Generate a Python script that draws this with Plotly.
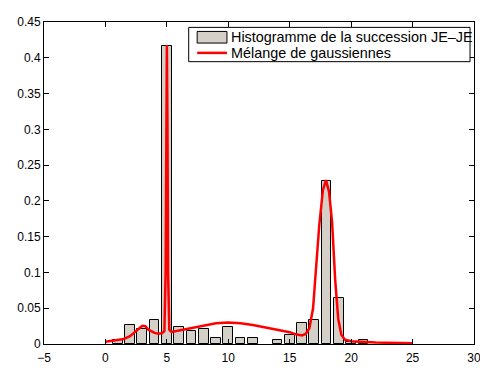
import plotly.graph_objects as go

# histogram bins (centres) and relative frequencies
bin_centres = [1, 2, 3, 4, 5, 6, 7, 8, 9, 10, 11, 12, 14, 15, 16, 17, 18, 19, 20, 21]
bin_freq = [0.006, 0.027, 0.021, 0.033, 0.416, 0.024, 0.0185, 0.021, 0.009, 0.024,
            0.009, 0.009, 0.006, 0.012, 0.030, 0.033, 0.228, 0.064, 0.003, 0.006]

# gaussian mixture curve
mix_x = [0.0, 0.5, 1.0, 1.5, 2.0, 2.5, 3.0, 3.25, 3.5, 4.0, 4.3, 4.6, 4.8, 4.9, 4.95,
         5.0, 5.05, 5.1, 5.2, 5.4, 6.0, 7.0, 8.0, 9.0, 10.0, 11.0, 12.0, 13.0, 14.0,
         15.0, 15.5, 16.0, 16.3, 16.6, 16.9, 17.1, 17.4, 17.7, 17.95, 18.2, 18.45,
         18.7, 18.95, 19.2, 19.5, 20.0, 21.0, 22.0, 25.0]
mix_y = [0.003, 0.004, 0.005, 0.007, 0.011, 0.018, 0.0255, 0.025, 0.020, 0.0155,
         0.0145, 0.015, 0.018, 0.10, 0.30, 0.418, 0.30, 0.10, 0.020, 0.0167, 0.019,
         0.0225, 0.026, 0.029, 0.030, 0.029, 0.0265, 0.023, 0.0205, 0.0165, 0.0135,
         0.012, 0.014, 0.022, 0.050, 0.095, 0.165, 0.215, 0.229, 0.213, 0.170, 0.090,
         0.035, 0.013, 0.006, 0.004, 0.003, 0.002, 0.001]

x_ticks = [-5, 0, 5, 10, 15, 20, 25, 30]
y_ticks = [0, 0.05, 0.1, 0.15, 0.2, 0.25, 0.3, 0.35, 0.4, 0.45]
y_labels = ["0", "0.05", "0.1", "0.15", "0.2", "0.25", "0.3", "0.35", "0.4", "0.45"]

bar_name = "Histogramme de la succession JE\u2013JE"
mix_name = "M\u00e9lange de gaussiennes"
bar_fill = "#d4d0c8"
mix_color = "#ff0000"

fig = go.Figure()
fig.add_trace(go.Bar(
    x=bin_centres, y=bin_freq, width=0.8,
    marker=dict(color=bar_fill, line=dict(color="black", width=1)),
    name=bar_name, showlegend=False
))
fig.add_trace(go.Scatter(
    x=mix_x, y=mix_y, mode="lines",
    line=dict(color=mix_color, width=2.5),
    name=mix_name, showlegend=False
))

axis_style = dict(showline=True, linecolor="black", linewidth=1, mirror="allticks",
                  ticks="inside", ticklen=5, tickcolor="black", showgrid=False,
                  zeroline=False, tickfont=dict(size=12, color="black"))

# MATLAB-style legend box (wide patch sample, tight rows)
fig.add_shape(type="rect", xref="paper", yref="paper", x0=0.3365, x1=0.9908,
              y0=0.8768, y1=0.9833, line=dict(color="black", width=1), fillcolor="white")
fig.add_shape(type="rect", xref="paper", yref="paper", x0=0.3562, x1=0.4255,
              y0=0.9346, y1=0.9707, line=dict(color="black", width=1), fillcolor=bar_fill)
fig.add_shape(type="line", xref="paper", yref="paper", x0=0.3562, x1=0.4255,
              y0=0.9041, y1=0.9041, line=dict(color=mix_color, width=2.5))
for label, ypos in [(bar_name, 0.9531), (mix_name, 0.9041)]:
    fig.add_annotation(text=label, xref="paper", yref="paper", x=0.4312, y=ypos,
                       xanchor="left", yanchor="middle", showarrow=False,
                       font=dict(size=14.4, color="black"))

# page body adds an 8px margin all round, so keep the page inside the window
fig.update_layout(
    width=480, height=364,
    margin=dict(l=36, r=8, t=7, b=16),
    paper_bgcolor="white", plot_bgcolor="white",
    font=dict(family="Liberation Sans, Arial, sans-serif", color="black"),
    xaxis=dict(range=[-5, 30], tickvals=x_ticks, ticklabelstandoff=3, **axis_style),
    yaxis=dict(range=[0, 0.45], tickvals=y_ticks, ticktext=y_labels, **axis_style),
    bargap=0,
)

fig.write_html("out.html")
